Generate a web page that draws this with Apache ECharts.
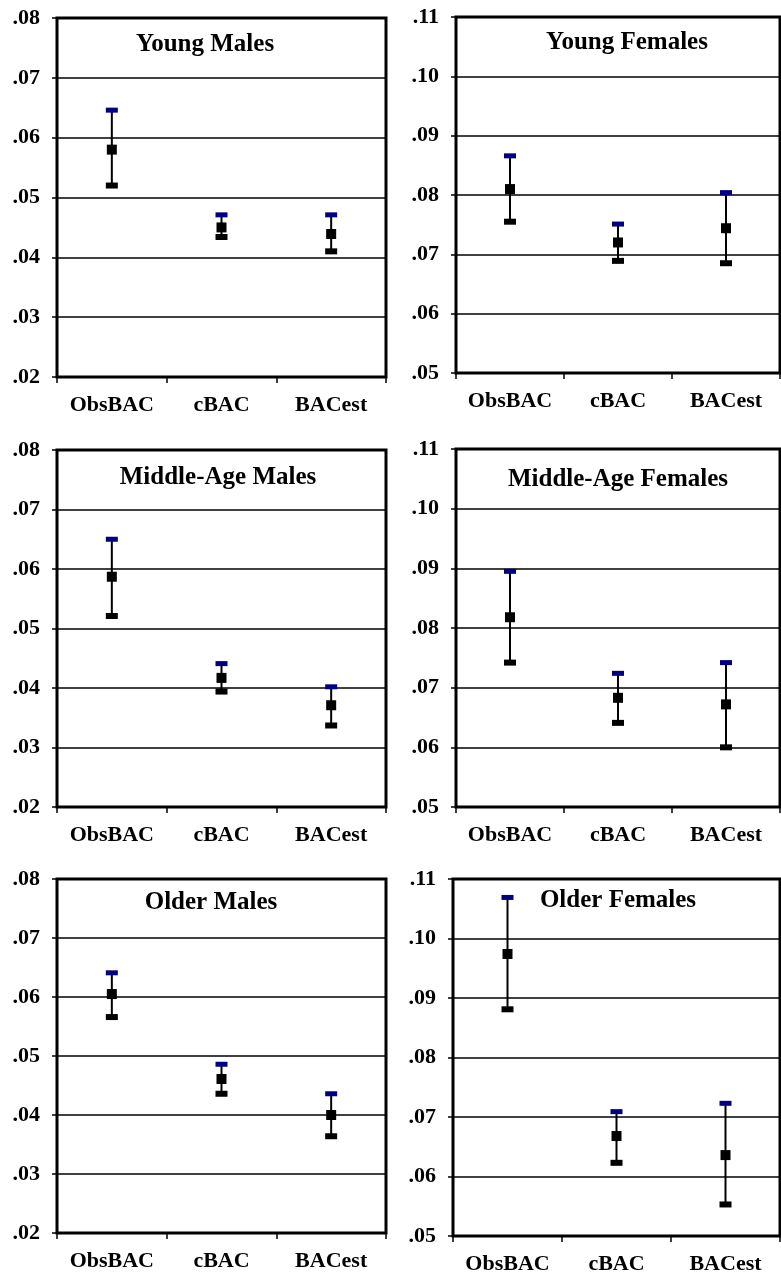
<!DOCTYPE html>
<html>
<head>
<meta charset="utf-8">
<script src="https://cdn.jsdelivr.net/npm/echarts@6/dist/echarts.min.js"></script>
<style>
html,body{margin:0;padding:0;background:#fff;}
#chart{width:781px;height:1279px;}
</style>
</head>
<body>
<div id="chart"></div>
<script>
// ---- data ----
const categories = ['ObsBAC', 'cBAC', 'BACest'];
const panelTitles = ['Young Males', 'Young Females', 'Middle-Age Males', 'Middle-Age Females', 'Older Males', 'Older Females'];
const yMin = [0.02, 0.05, 0.02, 0.05, 0.02, 0.05];
const yMax = [0.08, 0.11, 0.08, 0.11, 0.08, 0.11];
const means = [
  [0.0580, 0.0450, 0.0439],
  [0.0810, 0.0720, 0.0744],
  [0.0587, 0.0417, 0.0371],
  [0.0818, 0.0683, 0.0672],
  [0.0605, 0.0461, 0.0400],
  [0.0974, 0.0668, 0.0636]
];
const lowers = [
  [0.0520, 0.0434, 0.0410],
  [0.0755, 0.0689, 0.0685],
  [0.0521, 0.0394, 0.0337],
  [0.0742, 0.0641, 0.0600],
  [0.0566, 0.0436, 0.0364],
  [0.0881, 0.0623, 0.0553]
];
const uppers = [
  [0.0646, 0.0471, 0.0471],
  [0.0866, 0.0751, 0.0804],
  [0.0650, 0.0441, 0.0402],
  [0.0895, 0.0724, 0.0742],
  [0.0641, 0.0486, 0.0436],
  [0.1069, 0.0709, 0.0723]
];

// ---- layout ----
const FONT = "'Times New Roman', 'Liberation Serif', serif";
const gridBoxes = [
  {left: 57,  top: 18,  width: 329, height: 359},
  {left: 456, top: 17,  width: 324, height: 356},
  {left: 57,  top: 450, width: 329, height: 357},
  {left: 456, top: 449, width: 324, height: 358},
  {left: 57,  top: 879, width: 329, height: 354},
  {left: 453, top: 879, width: 327, height: 357}
];
const titlePos = [
  [205, 45], [627, 43], [218, 478], [618, 480], [211, 903], [618, 901]
];

const grids = [], xAxes = [], yAxes = [], series = [], graphics = [];
gridBoxes.forEach((g, i) => {
  grids.push(Object.assign({show: true, borderColor: '#000', borderWidth: 3, backgroundColor: 'transparent', z: 3}, g));
  xAxes.push({
    gridIndex: i, type: 'category', data: categories, boundaryGap: true,
    axisLine: {show: false},
    axisTick: {show: true, length: 6, lineStyle: {color: '#000', width: 1.5}},
    axisLabel: {interval: 0, hideOverlap: false, margin: 17, color: '#000', fontFamily: FONT, fontWeight: 'bold', fontSize: 22},
    splitLine: {show: false}
  });
  yAxes.push({
    gridIndex: i, type: 'value', min: yMin[i], max: yMax[i], interval: 0.01,
    axisLine: {show: false},
    axisTick: {show: true, length: 5, lineStyle: {color: '#000', width: 1.5}},
    axisLabel: {margin: 17, color: '#000', fontFamily: FONT, fontWeight: 'bold', fontSize: 22,
      formatter: v => v.toFixed(2).replace(/^0\./, '.')},
    splitLine: {show: true, lineStyle: {color: '#000', width: 1.6}}
  });
  const errData = categories.map((c, k) => [k, lowers[i][k], uppers[i][k]]);
  series.push({
    type: 'custom', xAxisIndex: i, yAxisIndex: i, z: 5,
    data: errData,
    encode: {x: 0, y: [1, 2]},
    renderItem: function (params, api) {
      const x = api.value(0);
      const lo = api.coord([x, api.value(1)]);
      const hi = api.coord([x, api.value(2)]);
      const cw = 12;
      return {
        type: 'group',
        children: [
          {type: 'line', shape: {x1: lo[0], y1: lo[1], x2: hi[0], y2: hi[1]}, style: {stroke: '#000', lineWidth: 2}},
          {type: 'rect', shape: {x: lo[0] - cw / 2, y: lo[1] - 3, width: cw, height: 6}, style: {fill: '#000'}},
          {type: 'rect', shape: {x: hi[0] - cw / 2, y: hi[1] - 2.5, width: cw, height: 5}, style: {fill: '#000080'}}
        ]
      };
    }
  });
  series.push({
    type: 'scatter', xAxisIndex: i, yAxisIndex: i, z: 6,
    symbol: 'rect', symbolSize: 10,
    itemStyle: {color: '#000', opacity: 1},
    data: categories.map((c, k) => [k, means[i][k]])
  });
  graphics.push({
    type: 'text', x: titlePos[i][0], y: titlePos[i][1], z: 10,
    style: {text: panelTitles[i], font: "bold 25px " + FONT, fill: '#000', align: 'center', verticalAlign: 'middle'}
  });
});

const chart = echarts.init(document.getElementById('chart'), null, {renderer: 'canvas'});
chart.setOption({
  animation: false,
  backgroundColor: '#fff',
  grid: grids,
  xAxis: xAxes,
  yAxis: yAxes,
  series: series,
  graphic: graphics
});
</script>
</body>
</html>
